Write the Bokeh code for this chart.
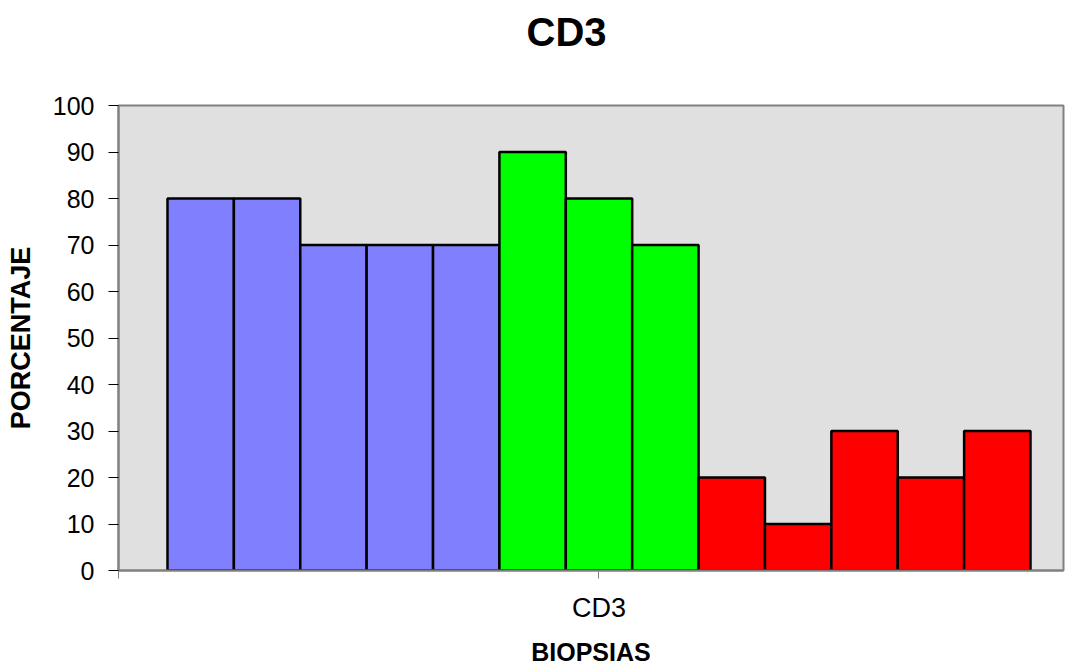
from bokeh.plotting import figure
from bokeh.models import ColumnDataSource, FixedTicker, Range1d
from bokeh.embed import file_html
from bokeh.resources import INLINE

# Percentages per biopsy, grouped by colour
group_values = {
    "#8080FF": [80, 80, 70, 70, 70],
    "#00FF00": [90, 80, 70],
    "#FF0000": [20, 10, 30, 20, 30],
}
y_ticks = list(range(0, 101, 10))
category = "CD3"
title_text = "CD3"

xs, tops, colors = [], [], []
i = 0
for col, vals in group_values.items():
    for v in vals:
        xs.append(i + 0.5)
        tops.append(v)
        colors.append(col)
        i += 1

src = ColumnDataSource(dict(x=xs, top=tops, color=colors))

x_lo, x_hi = -0.738, i + 0.497

p = figure(width=1074, height=666, output_backend="svg", toolbar_location=None,
           x_range=Range1d(x_lo, x_hi), y_range=Range1d(0, 100),
           frame_width=945, frame_height=465,
           min_border_left=118, min_border_right=11, min_border_top=105,
           min_border_bottom=96)

# the trailing empty line keeps the title up at the top of the page
p.title.text = title_text + "\n"
p.title.align = "left"
p.title.offset = 408
p.title.vertical_align = "top"
p.title.standoff = 11
p.title.text_color = "black"
p.title.text_font = "Liberation Sans"
p.title.text_font_size = "40px"
p.title.text_font_style = "bold"

p.background_fill_color = "#E0E0E0"
p.border_fill_color = "white"
p.outline_line_color = "#808080"
p.outline_line_width = 2
p.xgrid.visible = False
p.ygrid.visible = False

p.vbar(x="x", top="top", width=1.0, bottom=0, fill_color="color",
       line_color="black", line_width=2.5, source=src)

# y axis
ya = p.yaxis[0]
ya.ticker = FixedTicker(ticks=y_ticks)
ya.axis_label = "PORCENTAJE"
ya.axis_label_text_color = "black"
ya.axis_label_text_font = "Liberation Sans"
ya.axis_label_text_font_size = "27px"
ya.axis_label_text_font_style = "bold"
ya.axis_label_standoff = 14
ya.major_label_text_font = "Liberation Sans"
ya.major_label_text_font_size = "25px"
ya.major_label_text_color = "black"
ya.axis_line_color = "#808080"
ya.axis_line_width = 2
ya.major_tick_line_color = "black"
ya.major_tick_out = 10
ya.major_tick_in = 0
ya.minor_tick_line_color = None
ya.major_label_standoff = 14

# x axis: the single category label sits under the centre of the bar group
group_center = i / 2
xa = p.xaxis[0]
xa.ticker = FixedTicker(ticks=[x_lo, group_center])
xa.major_label_overrides = {x_lo: "", group_center: category}
xa.axis_label = "BIOPSIAS"
xa.axis_label_text_color = "black"
xa.axis_label_text_font = "Liberation Sans"
xa.axis_label_text_font_size = "25px"
xa.axis_label_text_font_style = "bold"
xa.axis_label_standoff = 12
xa.major_label_text_font = "Liberation Sans"
xa.major_label_text_font_size = "27px"
xa.major_label_text_color = "black"
xa.major_label_standoff = 14
xa.axis_line_color = "#808080"
xa.axis_line_width = 2
xa.major_tick_line_color = "#808080"
xa.major_tick_out = 8
xa.major_tick_in = 0
xa.minor_tick_line_color = None

open("out.html", "w").write(file_html(p, INLINE))
